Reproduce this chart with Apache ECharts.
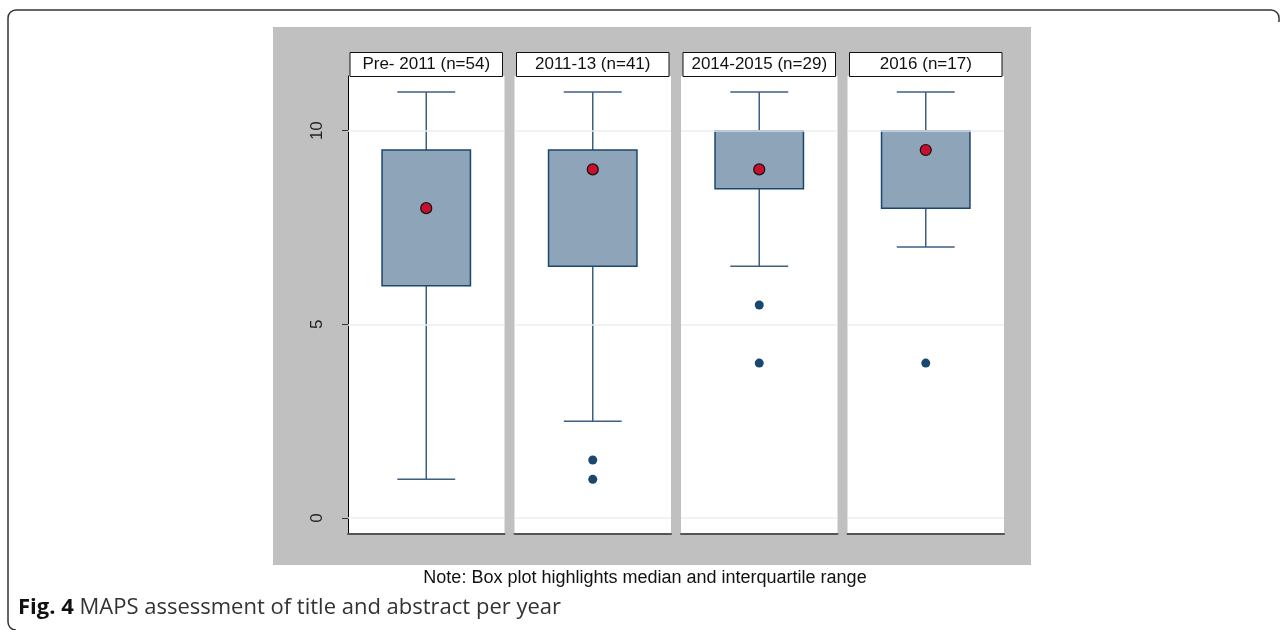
<!DOCTYPE html>
<html>
<head>
<meta charset="utf-8">
<script src="https://cdn.jsdelivr.net/npm/echarts@6/dist/echarts.min.js"></script>
<style>
  html, body { margin: 0; padding: 0; background: #fff; }
  #chart { width: 1287px; height: 630px; }
</style>
</head>
<body>
<div id="chart"></div>
<script>
// MAPS scores by publication period: box summaries, medians and outliers
const groups = ['Pre- 2011 (n=54)', '2011-13 (n=41)', '2014-2015 (n=29)', '2016 (n=17)'];
const lowerWhisker = [1, 2.5, 6.5, 7];
const lowerQuartile = [6, 6.5, 8.5, 8];
const medians = [8, 9, 9, 9.5];
const upperQuartile = [9.5, 9.5, 10, 10];
const upperWhisker = [11, 11, 11, 11];
const outliers = [[], [1.5, 1], [5.5, 4], [4]];
const yTicks = [0, 5, 10];
const noteText = 'Note: Box plot highlights median and interquartile range';
const captionBold = 'Fig. 4';
const captionText = 'MAPS assessment of title and abstract per year';

// layout
const plotLeft = 348, panelW = 156.5, panelGap = 10;
const plotTop = 76, plotBottom = 534;
const yMin = -0.41, yMax = 11.41;
const boxFill = '#8ea4b8', boxStroke = '#1a476f', whiskerColor = '#3d5f84';
const font = '"Liberation Sans", Arial, Helvetica, sans-serif';

const chart = echarts.init(document.getElementById('chart'), null, { renderer: 'canvas' });

function renderBox(params, api) {
  const x = api.value(0);
  const lo = api.coord([x, api.value(1)]);
  const q1 = api.coord([x, api.value(2)]);
  const q3 = api.coord([x, api.value(4)]);
  const hi = api.coord([x, api.value(5)]);
  const band = api.size([1, 0])[0];
  const bw = band * 0.565, cw = band * 0.37;
  const cx = lo[0];
  const ws = { stroke: whiskerColor, lineWidth: 1.5 };
  return {
    type: 'group',
    children: [
      { type: 'line', shape: { x1: cx, y1: hi[1], x2: cx, y2: q3[1] }, style: ws },
      { type: 'line', shape: { x1: cx, y1: q1[1], x2: cx, y2: lo[1] }, style: ws },
      { type: 'line', shape: { x1: cx - cw / 2, y1: hi[1], x2: cx + cw / 2, y2: hi[1] }, style: ws },
      { type: 'line', shape: { x1: cx - cw / 2, y1: lo[1], x2: cx + cw / 2, y2: lo[1] }, style: ws },
      { type: 'rect', shape: { x: cx - bw / 2, y: q3[1], width: bw, height: q1[1] - q3[1] },
        style: { fill: boxFill, stroke: boxStroke, lineWidth: 1.5 } }
    ]
  };
}

const grids = [], xAxes = [], yAxes = [], series = [], graphics = [];

// outer frame (top and left edges with rounded corners)
const frameStyle = { fill: null, stroke: '#333', lineWidth: 1.5 };
graphics.push({ type: 'polyline', z: 0, shape: { points: [[8, 622], [8, 18]] }, style: frameStyle });
graphics.push({ type: 'polyline', z: 0, shape: { points: [[16, 10], [1271, 10]] }, style: frameStyle });
graphics.push({ type: 'polyline', z: 0, shape: { points: [[1279, 18], [1279, 22]] }, style: frameStyle });
graphics.push({ type: 'arc', z: 0, shape: { cx: 16, cy: 18, r: 8, startAngle: Math.PI, endAngle: Math.PI * 1.5, clockwise: true }, style: frameStyle });
graphics.push({ type: 'arc', z: 0, shape: { cx: 1271, cy: 18, r: 8, startAngle: Math.PI * 1.5, endAngle: Math.PI * 2, clockwise: true }, style: frameStyle });
graphics.push({ type: 'arc', z: 0, shape: { cx: 16, cy: 622, r: 8, startAngle: Math.PI * 0.5, endAngle: Math.PI, clockwise: true }, style: frameStyle });

// grey plot region
graphics.push({
  type: 'rect', z: -10, shape: { x: 273, y: 27, width: 758, height: 538 },
  style: { fill: '#c0c0c0' }
});

groups.forEach((g, i) => {
  const left = plotLeft + i * (panelW + panelGap);
  grids.push({
    left: left, top: plotTop, width: panelW, height: plotBottom - plotTop,
    show: true, backgroundColor: '#fff', borderWidth: 0
  });
  xAxes.push({
    type: 'category', gridIndex: i, data: [g], position: 'bottom',
    axisLine: { show: true, onZero: false, lineStyle: { color: '#555', width: 2 } },
    axisTick: { show: false }, axisLabel: { show: false }, splitLine: { show: false }
  });
  yAxes.push({
    type: 'value', gridIndex: i, min: yMin, max: yMax,
    axisLine: { show: i === 0, onZero: false, lineStyle: { color: '#000', width: 1 } },
    axisTick: { show: i === 0, length: 6, customValues: yTicks, lineStyle: { color: '#333' } },
    axisLabel: {
      show: i === 0, customValues: yTicks, rotate: 90, margin: 22,
      color: '#222', fontSize: 17, fontFamily: font
    },
    splitLine: { show: false }
  });
  // faint reference lines at the tick values
  series.push({
    type: 'scatter', xAxisIndex: i, yAxisIndex: i, data: [], z: 1, silent: true,
    markLine: {
      silent: true, symbol: 'none', animation: false,
      label: { show: false },
      lineStyle: { color: '#e9eff4', width: 1.5, type: 'solid' },
      data: yTicks.map(v => ({ yAxis: v }))
    }
  });
  series.push({
    type: 'custom', xAxisIndex: i, yAxisIndex: i, z: 3,
    renderItem: renderBox,
    encode: { x: 0, y: [1, 2, 3, 4, 5] },
    data: [[0, lowerWhisker[i], lowerQuartile[i], medians[i], upperQuartile[i], upperWhisker[i]]]
  });
  series.push({
    type: 'scatter', xAxisIndex: i, yAxisIndex: i, z: 4,
    symbolSize: 9,
    itemStyle: { color: boxStroke, opacity: 1 },
    data: outliers[i].map(v => [0, v])
  });
  series.push({
    type: 'scatter', xAxisIndex: i, yAxisIndex: i, z: 5,
    symbolSize: 11,
    itemStyle: { color: '#c8102e', borderColor: '#111', borderWidth: 1.2, opacity: 1 },
    data: [[0, medians[i]]]
  });
  // panel header strip
  graphics.push({
    type: 'rect', z: 10,
    shape: { x: left + 2, y: 52.5, width: panelW - 4, height: 24 },
    style: { fill: '#fff', stroke: '#111', lineWidth: 1 }
  });
  graphics.push({
    type: 'text', z: 11,
    x: left + panelW / 2, y: 64.5,
    style: { text: g, fontSize: 17, fontFamily: font, fill: '#111', align: 'center', verticalAlign: 'middle' }
  });
});

graphics.push({
  type: 'text', z: 11, x: 645, y: 578,
  style: { text: noteText, fontSize: 18, fontFamily: font, fill: '#111', align: 'center', verticalAlign: 'middle' }
});
graphics.push({
  type: 'text', z: 11, x: 18, y: 608,
  style: {
    text: '{b|' + captionBold + '} ' + captionText,
    rich: { b: { fontWeight: 'bold', fontSize: 22, fontFamily: '"Open Sans", sans-serif', fill: '#111' } },
    fontSize: 22, fontFamily: '"Open Sans", sans-serif', fill: '#333', verticalAlign: 'middle'
  }
});

chart.setOption({
  animation: false,
  backgroundColor: '#fff',
  grid: grids,
  xAxis: xAxes,
  yAxis: yAxes,
  series: series,
  graphic: graphics
});
</script>
</body>
</html>
